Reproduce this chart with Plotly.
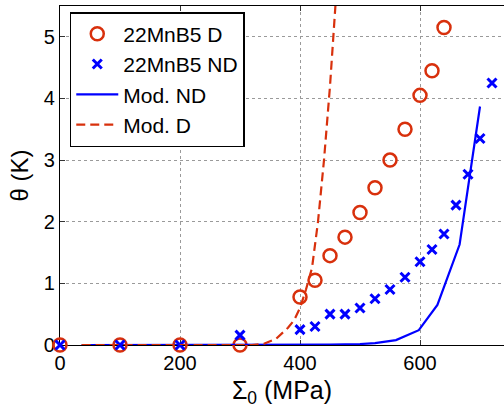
import plotly.graph_objects as go

# Measured temperature rise vs. applied stress amplitude
sigma_d = [0, 100, 200, 300, 400, 425, 450, 475, 500, 525, 550, 575, 600, 620, 640]
theta_d = [0, 0, 0, 0, 0.78, 1.05, 1.45, 1.75, 2.15, 2.55, 3.0, 3.5, 4.05, 4.45, 5.15]

sigma_nd = [0, 100, 200, 300, 400, 425, 450, 475, 500, 525, 550, 575, 600, 620, 640,
            660, 680, 700, 720]
theta_nd = [0, 0, 0, 0.16, 0.25, 0.3, 0.5, 0.5, 0.6, 0.75, 0.9, 1.1, 1.35, 1.55, 1.8,
            2.27, 2.77, 3.35, 4.25]

# Model predictions
sigma_mod_nd = [36, 300, 400, 450, 500, 525, 560, 598, 629, 666, 700]
theta_mod_nd = [0, 0, 0, 0.005, 0.015, 0.03, 0.08, 0.24, 0.65, 1.63, 3.87]

sigma_mod_d = [36, 320, 340, 360, 380, 390, 400, 410, 420, 430, 440, 450, 459]
theta_mod_d = [0, 0, 0.02, 0.1, 0.28, 0.4, 0.6, 0.9, 1.25, 2.0, 3.0, 4.2, 5.5]

RED = "#D8300C"
BLUE = "#0000FF"
FONT = "Liberation Sans, Arial, sans-serif"

fig = go.Figure()
fig.add_trace(go.Scatter(
    x=sigma_d, y=theta_d, mode="markers", name="22MnB5 D",
    marker=dict(symbol="circle-open", size=13, color=RED, line=dict(width=2.5, color=RED)),
    cliponaxis=False,
))
fig.add_trace(go.Scatter(
    x=sigma_nd, y=theta_nd, mode="markers", name="22MnB5 ND",
    marker=dict(symbol="x-thin-open", size=9, color=BLUE, line=dict(width=3, color=BLUE)),
    cliponaxis=False,
))
fig.add_trace(go.Scatter(
    x=sigma_mod_nd, y=theta_mod_nd, mode="lines", name="Mod. ND",
    line=dict(color=BLUE, width=2.2),
    cliponaxis=False,
))
fig.add_trace(go.Scatter(
    x=sigma_mod_d, y=theta_mod_d, mode="lines", name="Mod. D",
    line=dict(color=RED, width=2.2, dash="9px,5px"),
    cliponaxis=False,
))

fig.update_layout(
    width=504, height=411,
    margin=dict(l=60, r=0, t=6, b=66),
    paper_bgcolor="white", plot_bgcolor="white",
    font=dict(family=FONT, size=20, color="black"),
    showlegend=True,
    legend=dict(
        x=0.022, y=0.982, xanchor="left", yanchor="top",
        bgcolor="white", bordercolor="black", borderwidth=1.5,
        font=dict(family=FONT, size=21, color="black"),
        itemwidth=42, tracegroupgap=0,
    ),
    xaxis=dict(
        range=[0, 740], tickvals=[0, 200, 400, 600],
        showline=True, linecolor="black", linewidth=1.2, mirror="ticks",
        ticks="inside", ticklen=5, tickcolor="#333333",
        tickfont=dict(size=20),
        showgrid=True, gridcolor="#9a9a9a", griddash="dot", gridwidth=1,
        zeroline=False, layer="below traces",
        title=dict(text="Σ<sub>0</sub> (MPa)", font=dict(size=25), standoff=8),
    ),
    yaxis=dict(
        range=[0, 5.5], tickvals=[0, 1, 2, 3, 4, 5],
        showline=True, linecolor="black", linewidth=1.2, mirror=False,
        ticks="inside", ticklen=5, tickcolor="#333333",
        tickfont=dict(size=20),
        showgrid=True, gridcolor="#9a9a9a", griddash="dot", gridwidth=1,
        zeroline=False, layer="below traces",
        title=dict(text="θ (K)", font=dict(size=24), standoff=8),
    ),
)

fig.write_html("out.html")
